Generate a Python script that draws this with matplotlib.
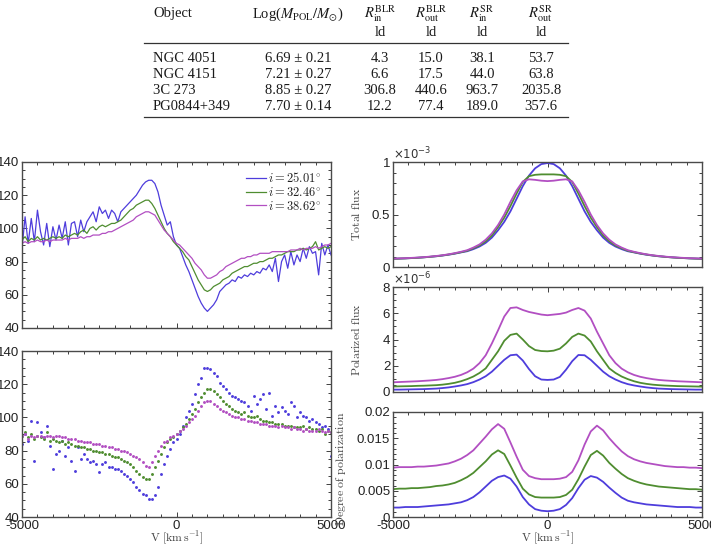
import numpy as np
import matplotlib
matplotlib.use('Agg')
import matplotlib.pyplot as plt
from matplotlib.ticker import MultipleLocator, FixedLocator, FuncFormatter
from matplotlib.lines import Line2D

plt.rcParams['font.family'] = ['Liberation Sans', 'DejaVu Sans']
plt.rcParams['mathtext.fontset'] = 'cm'

# ---------------- table data ----------------
objects = ['NGC 4051', 'NGC 4151', '3C 273', 'PG0844+349']
log_mass = ['6.69 ± 0.21', '7.21 ± 0.27', '8.85 ± 0.27', '7.70 ± 0.14']
r_in_blr = [4.3, 6.6, 306.8, 12.2]
r_out_blr = [15.0, 17.5, 440.6, 77.4]
r_in_sr = [38.1, 44.0, 963.7, 189.0]
r_out_sr = [53.7, 63.8, 2035.8, 357.6]

# ---------------- series ----------------
incl_labels = [r'$i=25.01^{\circ}$', r'$i=32.46^{\circ}$', r'$i=38.62^{\circ}$']
colors = ['#4e3ddc', '#4f8d30', '#b24fc2']

v_fine = np.arange(-5000, 5001, 100)   # km/s
v_prof = np.arange(-5000, 5001, 200)   # km/s

# top-left: polarization angle (lines)
pa_blue = [88, 107, 91, 106, 92, 111, 98, 90, 103, 89,
           101, 93, 102, 94, 104, 90, 103, 104, 95, 105,
           98, 104, 107, 110, 104, 113, 109, 111, 106, 111,
           109, 104, 110, 112, 114, 116, 118, 120, 123, 126,
           128, 129, 129, 127, 122, 114, 108, 102, 104, 95,
           90, 88, 83, 78, 74, 69, 64, 59, 55, 52,
           50, 52, 54, 57, 62, 64, 66, 67, 69, 68,
           71, 70, 72, 71, 73, 72, 74, 73, 76, 75,
           78, 74, 82, 68, 80, 84, 76, 86, 78, 84,
           80, 88, 82, 89, 85, 86, 72, 91, 84, 90,
           84]
pa_green = [93, 95, 92, 94, 93, 95, 93, 94, 93, 94,
            95, 94, 95, 94, 96, 95, 96, 97, 96, 98,
            99, 97, 100, 101, 99, 101, 102, 101, 102, 103,
            103, 104, 105, 107, 109, 111, 112, 114, 115, 116,
            117, 117, 115, 112, 108, 104, 100, 97, 95, 92,
            90, 88, 86, 83, 81, 77, 73, 69, 66, 63,
            62, 63, 65, 66, 67, 69, 70, 71, 73, 74,
            75, 76, 77, 77, 78, 79, 79, 80, 80, 81,
            82, 82, 83, 84, 84, 85, 86, 86, 86, 87,
            87, 88, 87, 88, 89, 92, 87, 88, 89, 88,
            89]
pa_purple = [91, 92, 91, 92, 92, 93, 92, 92, 93, 92,
             93, 93, 93, 93, 94, 93, 94, 94, 94, 95,
             94, 95, 95, 96, 96, 96, 97, 97, 98, 98,
             99, 100, 101, 102, 103, 104, 105, 107, 108, 109,
             110, 110, 109, 108, 105, 102, 99, 97, 95, 93,
             91, 90, 88, 86, 84, 82, 79, 77, 75, 72,
             70, 70, 71, 72, 74, 75, 77, 78, 79, 80,
             81, 82, 82, 83, 83, 84, 84, 85, 85, 85,
             85, 86, 86, 86, 86, 86, 86, 87, 87, 87,
             88, 87, 88, 88, 88, 89, 88, 89, 90, 90,
             91]

# bottom-left: points
pb_blue = [84, 90, 86, 98, 74, 97, 91, 88, 95, 83,
           69, 78, 80, 86, 77, 82, 74, 68, 82, 75,
           78, 75, 73, 74, 72, 67, 72, 73, 70, 70,
           69, 69, 68, 66, 65, 63, 61, 58, 56, 54,
           53, 51, 51, 53, 58, 66, 72, 77, 81, 85,
           87, 90, 95, 100, 104, 108, 114, 120, 124, 130,
           130, 129, 127, 125, 121, 119, 117, 115, 113, 112,
           111, 110, 109, 107, 104, 113, 108, 111, 114, 105,
           115, 101, 107, 103, 106, 104, 102, 109, 107, 100,
           103, 101, 100, 98, 99, 97, 96, 94, 95, 93,
           77]
pb_green = [89, 91, 88, 90, 87, 89, 88, 87, 91, 86,
            87, 86, 85, 86, 84, 85, 84, 83, 83, 82,
            82, 81, 81, 80, 80, 79, 79, 78, 78, 77,
            76, 76, 75, 74, 73, 72, 70, 68, 66, 64,
            63, 63, 66, 70, 74, 78, 82, 85, 87, 88,
            90, 92, 94, 96, 99, 102, 105, 109, 112, 115,
            117, 117, 116, 114, 112, 110, 108, 107, 105, 104,
            103, 102, 103, 101, 100, 100, 101, 99, 98, 98,
            97, 97, 96, 96, 96, 95, 95, 95, 94, 94,
            94, 95, 93, 94, 93, 93, 92, 93, 90, 92,
            91]
pb_purple = [89, 90, 87, 89, 88, 89, 89, 88, 89, 89,
             88, 89, 89, 88, 88, 87, 87, 87, 86, 86,
             85, 85, 85, 84, 84, 84, 83, 83, 82, 82,
             81, 81, 80, 80, 79, 78, 77, 76, 75, 73,
             71, 70, 73, 77, 80, 83, 85, 86, 88, 89,
             90, 92, 93, 95, 97, 99, 101, 104, 107, 109,
             110, 110, 108, 107, 105, 104, 103, 102, 101, 100,
             100, 99, 99, 98, 98, 97, 97, 96, 96, 96,
             95, 95, 95, 94, 95, 94, 94, 93, 94, 93,
             93, 92, 93, 92, 92, 92, 93, 92, 91, 92,
             91]

# right: total flux (x1e-3)
tot_blue = [0.078, 0.080, 0.082, 0.085, 0.088, 0.092, 0.097, 0.102, 0.109, 0.117,
            0.127, 0.139, 0.150, 0.170, 0.195, 0.230, 0.280, 0.350, 0.430, 0.530,
            0.650, 0.770, 0.870, 0.940, 0.980, 0.990, 0.980, 0.940, 0.870, 0.770,
            0.650, 0.530, 0.430, 0.350, 0.280, 0.230, 0.195, 0.170, 0.150, 0.139,
            0.127, 0.117, 0.109, 0.102, 0.097, 0.092, 0.088, 0.085, 0.082, 0.080,
            0.078]
tot_green = [0.078, 0.080, 0.082, 0.085, 0.088, 0.092, 0.097, 0.103, 0.110, 0.119,
             0.129, 0.141, 0.155, 0.178, 0.205, 0.245, 0.300, 0.380, 0.470, 0.580,
             0.700, 0.810, 0.865, 0.878, 0.882, 0.882, 0.882, 0.878, 0.865, 0.810,
             0.700, 0.580, 0.470, 0.380, 0.300, 0.245, 0.205, 0.178, 0.155, 0.141,
             0.129, 0.119, 0.110, 0.103, 0.097, 0.092, 0.088, 0.085, 0.082, 0.080,
             0.078]
tot_purple = [0.080, 0.082, 0.084, 0.087, 0.090, 0.094, 0.099, 0.105, 0.112, 0.121,
              0.132, 0.145, 0.160, 0.185, 0.215, 0.260, 0.320, 0.400, 0.500, 0.620,
              0.730, 0.815, 0.835, 0.830, 0.822, 0.818, 0.822, 0.830, 0.835, 0.815,
              0.730, 0.620, 0.500, 0.400, 0.320, 0.260, 0.215, 0.185, 0.160, 0.145,
              0.132, 0.121, 0.112, 0.105, 0.099, 0.094, 0.090, 0.087, 0.084, 0.082,
              0.080]

# right: polarized flux (x1e-6)
pol_blue = [0.18, 0.18, 0.19, 0.20, 0.21, 0.22, 0.24, 0.26, 0.30, 0.35,
            0.42, 0.50, 0.60, 0.75, 0.95, 1.20, 1.55, 2.00, 2.45, 2.80,
            2.85, 2.40, 1.75, 1.20, 0.95, 0.92, 0.95, 1.15, 1.70, 2.35,
            2.82, 2.80, 2.45, 2.00, 1.55, 1.20, 0.95, 0.75, 0.60, 0.50,
            0.42, 0.35, 0.30, 0.26, 0.24, 0.22, 0.21, 0.20, 0.19, 0.18,
            0.18]
pol_green = [0.42, 0.43, 0.44, 0.45, 0.47, 0.48, 0.50, 0.52, 0.56, 0.62,
             0.70, 0.82, 0.98, 1.18, 1.45, 1.80, 2.45, 3.10, 3.90, 4.35,
             4.45, 4.00, 3.50, 3.20, 3.12, 3.10, 3.15, 3.30, 3.70, 4.20,
             4.45, 4.30, 3.85, 3.10, 2.45, 1.80, 1.45, 1.18, 0.98, 0.82,
             0.70, 0.62, 0.56, 0.52, 0.49, 0.47, 0.45, 0.44, 0.43, 0.42,
             0.41]
pol_purple = [0.74, 0.76, 0.78, 0.80, 0.82, 0.85, 0.88, 0.92, 0.98, 1.06,
              1.16, 1.30, 1.50, 1.78, 2.20, 2.80, 3.70, 4.70, 5.75, 6.40,
              6.45, 6.25, 6.10, 6.00, 5.90, 5.85, 5.90, 5.95, 6.05, 6.25,
              6.40, 6.20, 5.60, 4.60, 3.70, 2.80, 2.20, 1.78, 1.50, 1.30,
              1.16, 1.06, 0.98, 0.92, 0.88, 0.85, 0.82, 0.80, 0.78, 0.76,
              0.74]

# right: degree of polarization
deg_blue = [.0018, .0018, .0019, .0019, .0019, .0020, .0021, .0022, .0023, .0024,
            .0026, .0028, .0032, .0038, .0047, .0058, .0069, .0076, .0079, .0073,
            .0058, .0038, .0024, .0015, .0012, .0011, .0012, .0015, .0023, .0036,
            .0055, .0071, .0078, .0075, .0067, .0056, .0046, .0037, .0031, .0028,
            .0026, .0024, .0023, .0022, .0021, .0020, .0019, .0019, .0019, .0018,
            .0018]
deg_green = [.0053, .0054, .0054, .0055, .0055, .0056, .0057, .0059, .0060, .0062,
             .0065, .0070, .0076, .0084, .0095, .0106, .0119, .0127, .0120, .0098,
             .0075, .0054, .0043, .0038, .0037, .0037, .0037, .0038, .0042, .0052,
             .0072, .0096, .0118, .0126, .0117, .0103, .0092, .0082, .0074, .0069,
             .0065, .0062, .0060, .0058, .0057, .0056, .0055, .0054, .0053, .0053,
             .0052]
deg_purple = [.0094, .0095, .0095, .0095, .0096, .0096, .0097, .0098, .0100, .0102,
              .0106, .0111, .0118, .0127, .0140, .0153, .0167, .0177, .0168, .0142,
              .0115, .0090, .0078, .0074, .0072, .0072, .0072, .0073, .0076, .0086,
              .0108, .0138, .0163, .0174, .0165, .0150, .0137, .0125, .0116, .0110,
              .0106, .0103, .0101, .0099, .0097, .0096, .0095, .0095, .0094, .0094,
              .0093]

# ---------------- figure ----------------
W, H = 711, 545
fig = plt.figure(figsize=(W / 100, H / 100), dpi=100)


def box(x0, y0, x1, y1):
    return [x0 / W, 1 - y1 / H, (x1 - x0) / W, (y1 - y0) / H]


axL1 = fig.add_axes(box(22, 162, 331, 328))
axL2 = fig.add_axes(box(22, 351, 331, 517))
axR1 = fig.add_axes(box(393, 162, 702, 267))
axR2 = fig.add_axes(box(393, 287, 702, 392))
axR3 = fig.add_axes(box(393, 412, 702, 517))

gfmt = FuncFormatter(lambda v, p: '%g' % v)


def style(ax, ylim, ymaj, ymin, xlabels):
    ax.set_xlim(-5000, 5000)
    ax.set_ylim(*ylim)
    ax.xaxis.set_major_locator(FixedLocator([-5000, 0, 5000]))
    ax.xaxis.set_minor_locator(MultipleLocator(500))
    ax.yaxis.set_major_locator(MultipleLocator(ymaj))
    ax.yaxis.set_minor_locator(MultipleLocator(ymin))
    ax.xaxis.set_major_formatter(gfmt)
    ax.yaxis.set_major_formatter(gfmt)
    ax.tick_params(which='both', direction='in', top=True, right=True,
                   color='#404040', labelcolor='#222222', labelsize=9.5, width=0.7)
    ax.tick_params(which='major', length=3.5, pad=2)
    ax.tick_params(which='minor', length=2.5)
    if not xlabels:
        ax.tick_params(labelbottom=False)
    for s in ax.spines.values():
        s.set_color('#4a4a4a')
        s.set_linewidth(1.0)


style(axL1, (40, 140), 20, 5, False)
style(axL2, (40, 140), 20, 5, True)
style(axR1, (0, 1), 0.5, 0.1, False)
style(axR2, (0, 8), 2, 0.5, False)
style(axR3, (0, 0.02), 0.005, 0.001, True)

pa = [pa_blue, pa_green, pa_purple]
pb = [pb_blue, pb_green, pb_purple]
tot = [tot_blue, tot_green, tot_purple]
pol = [pol_blue, pol_green, pol_purple]
deg = [deg_blue, deg_green, deg_purple]

for k in range(3):
    axL1.plot(v_fine, pa[k], color=colors[k], lw=0.9, label=incl_labels[k])
    axL2.plot(v_fine, pb[k], 'o', color=colors[k], ms=2.1, mec='none')
    axR1.plot(v_prof, tot[k], color=colors[k], lw=1.3)
    axR2.plot(v_prof, pol[k], color=colors[k], lw=1.3)
    axR3.plot(v_prof, deg[k], color=colors[k], lw=1.3)

leg = axL1.legend(loc='upper right', frameon=False, fontsize=9,
                  handlelength=1.6, handletextpad=0.2, labelspacing=0.05,
                  borderaxespad=0.35)
for t in leg.get_texts():
    t.set_color('#222222')

axR1.text(0.0, 1.0, r'$\times10^{-3}$', transform=axR1.transAxes, fontsize=8.5,
          ha='left', va='bottom', color='#333333', math_fontfamily='dejavusans')
axR2.text(0.0, 1.0, r'$\times10^{-6}$', transform=axR2.transAxes, fontsize=8.5,
          ha='left', va='bottom', color='#333333', math_fontfamily='dejavusans')

lab_kw = dict(fontsize=8.5, color='#444444')
axR1.set_ylabel(r'$\mathrm{Total\ flux}$', **lab_kw)
axR1.yaxis.set_label_coords(-0.097, 0.5)
axR2.set_ylabel(r'$\mathrm{Polarized\ flux}$', **lab_kw)
axR2.yaxis.set_label_coords(-0.097, 0.5)
axR3.set_ylabel(r'$\mathrm{Degree\ of\ polarization}$', **lab_kw)
axR3.yaxis.set_label_coords(-0.146, 0.46)

for ax, hgt in ((axL2, 517 - 351), (axR3, 517 - 412)):
    ax.set_xlabel(r'$\mathrm{V\ [km\,s^{-1}]}$', **lab_kw)
    ax.xaxis.label.set_va('center')
    ax.xaxis.set_label_coords(0.5, -(538 - 517) / hgt)

# ---------------- table ----------------
tk = dict(fontsize=10.5, family=['Liberation Serif', 'DejaVu Serif'], color='#1a1a1a',
          va='center', math_fontfamily='stix')


def ft(x, y, s, ha='center'):
    fig.text(x / W, 1 - y / H, s, ha=ha, **tk)


col_x = [153, 298, 380, 431, 482, 541]
ft(col_x[0], 14, 'Object', ha='left')
ft(col_x[1], 14, r'Log($M_{\mathrm{POL}}/M_{\odot}$)')
ft(col_x[2], 14, r'$R_{\mathrm{in}}^{\mathrm{BLR}}$')
ft(col_x[3], 14, r'$R_{\mathrm{out}}^{\mathrm{BLR}}$')
ft(col_x[4], 14, r'$R_{\mathrm{in}}^{\mathrm{SR}}$')
ft(col_x[5], 14, r'$R_{\mathrm{out}}^{\mathrm{SR}}$')
for cx in col_x[2:]:
    ft(cx, 32, 'ld')

row_y = [58, 74, 90, 106]
for i in range(4):
    ft(col_x[0], row_y[i], objects[i], ha='left')
    ft(col_x[1], row_y[i], log_mass[i])
    ft(col_x[2], row_y[i], '%.1f' % r_in_blr[i])
    ft(col_x[3], row_y[i], '%.1f' % r_out_blr[i])
    ft(col_x[4], row_y[i], '%.1f' % r_in_sr[i])
    ft(col_x[5], row_y[i], '%.1f' % r_out_sr[i])

for yl in (43, 117):
    fig.add_artist(Line2D([144 / W, 568 / W], [1 - yl / H, 1 - yl / H],
                          transform=fig.transFigure, color='#333333', lw=0.9))

fig.savefig('out.png', dpi=100)
